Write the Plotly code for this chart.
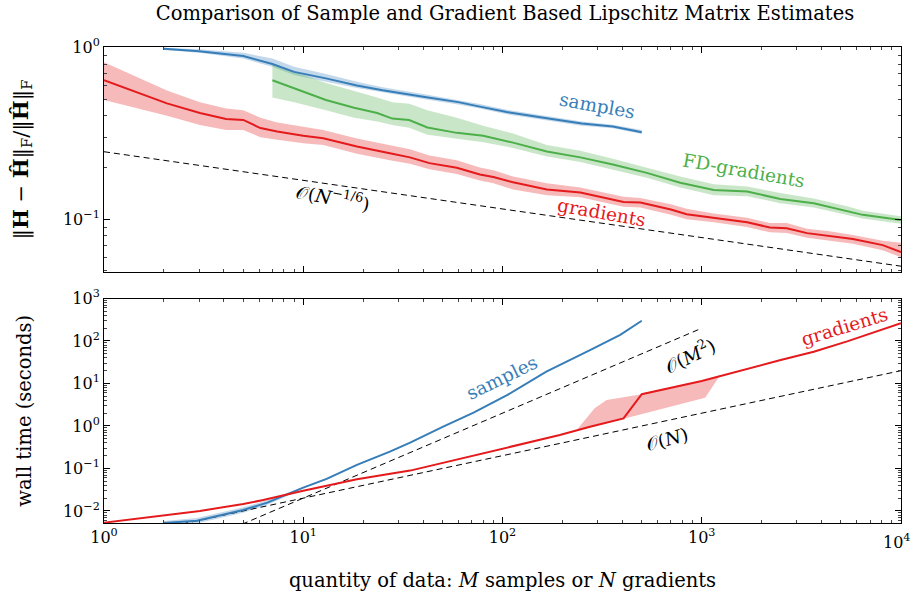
import plotly.graph_objects as go

# ---------------- data: top panel (relative error) ----------------
top_samples_x = [2, 3, 5, 7, 9, 13, 18.6, 25, 40, 60, 77, 105, 167, 250, 358, 500]
top_samples_y = [0.98, 0.95, 0.89, 0.80, 0.72, 0.66, 0.60, 0.563, 0.516, 0.48, 0.452, 0.42, 0.387, 0.36, 0.346, 0.321]
top_samples_hi = [0.995, 0.975, 0.93, 0.86, 0.77, 0.70, 0.63, 0.585, 0.535, 0.495, 0.468, 0.433, 0.398, 0.37, 0.355, 0.33]
top_samples_lo = [0.965, 0.93, 0.86, 0.77, 0.69, 0.63, 0.58, 0.545, 0.50, 0.465, 0.44, 0.408, 0.377, 0.35, 0.338, 0.313]

top_fd_x = [7, 9, 13, 18, 23.5, 28, 34, 42, 59, 80, 113, 167, 246, 358, 530, 780, 1150, 1690, 2480, 3650, 5370, 6430, 10000]
top_fd_y = [0.644, 0.58, 0.494, 0.445, 0.415, 0.385, 0.378, 0.342, 0.318, 0.306, 0.279, 0.248, 0.229, 0.208, 0.186, 0.163, 0.148, 0.145, 0.131, 0.124, 0.112, 0.106, 0.099]
top_fd_hi = [0.81, 0.72, 0.62, 0.56, 0.51, 0.48, 0.47, 0.43, 0.39, 0.35, 0.315, 0.27, 0.25, 0.225, 0.20, 0.177, 0.16, 0.155, 0.142, 0.132, 0.119, 0.112, 0.104]
top_fd_lo = [0.51, 0.48, 0.43, 0.39, 0.37, 0.353, 0.34, 0.31, 0.295, 0.28, 0.26, 0.232, 0.215, 0.194, 0.174, 0.153, 0.138, 0.136, 0.124, 0.117, 0.106, 0.101, 0.094]

top_grad_x = [1, 2.07, 3.03, 4.1, 5, 6.1, 7.4, 10, 12.6, 18.6, 27.2, 34.3, 43, 59, 77, 90, 113, 167, 246, 405, 492, 700, 840, 1150, 1690, 2200, 2670, 3380, 4380, 5740, 8100, 10000]
top_grad_y = [0.644, 0.472, 0.415, 0.383, 0.378, 0.339, 0.324, 0.306, 0.296, 0.265, 0.242, 0.229, 0.212, 0.199, 0.182, 0.176, 0.164, 0.149, 0.143, 0.126, 0.125, 0.114, 0.107, 0.102, 0.096, 0.0895, 0.0887, 0.083, 0.080, 0.0767, 0.0707, 0.0645]
top_grad_hi = [0.82, 0.56, 0.48, 0.44, 0.43, 0.39, 0.365, 0.345, 0.33, 0.295, 0.27, 0.255, 0.235, 0.22, 0.20, 0.193, 0.177, 0.162, 0.153, 0.135, 0.133, 0.122, 0.115, 0.108, 0.102, 0.095, 0.095, 0.088, 0.085, 0.081, 0.075, 0.073]
top_grad_lo = [0.494, 0.40, 0.353, 0.33, 0.33, 0.30, 0.29, 0.277, 0.27, 0.24, 0.22, 0.21, 0.195, 0.183, 0.168, 0.162, 0.149, 0.138, 0.134, 0.118, 0.117, 0.106, 0.10, 0.096, 0.09, 0.084, 0.083, 0.078, 0.075, 0.072, 0.066, 0.060]

top_ref_x = [1, 10000]
top_ref_y = [0.247, 0.0533]   # O(N^-1/6)

# ---------------- data: bottom panel (wall time) ----------------
bot_samples_x = [2, 2.93, 3.95, 5, 6.6, 8.6, 10, 13.1, 18.6, 27.2, 34.4, 50.4, 71.6, 106, 166, 275, 390, 500]
bot_samples_y = [0.0052, 0.0059, 0.0081, 0.0105, 0.0157, 0.026, 0.0355, 0.0566, 0.121, 0.248, 0.404, 0.963, 2.06, 5.37, 19, 61, 139, 300]
bot_samples_hi = [0.0058, 0.0068, 0.0094, 0.0122, 0.0178, 0.028, 0.037, 0.059, 0.125, 0.255, 0.415, 0.98, 2.1, 5.45, 19.3, 62, 141, 304]
bot_samples_lo = [0.0046, 0.0051, 0.0070, 0.0091, 0.0139, 0.024, 0.034, 0.054, 0.117, 0.241, 0.393, 0.945, 2.02, 5.29, 18.7, 60, 137, 296]

bot_grad_x = [1, 3.03, 5, 6.3, 10, 18.6, 34.4, 63, 109, 194, 275, 405, 500, 1000, 2490, 3650, 5370, 10000]
bot_grad_y = [0.0053, 0.010, 0.0146, 0.018, 0.030, 0.056, 0.089, 0.174, 0.326, 0.61, 0.96, 1.51, 5.6, 11.5, 35.6, 56, 98, 262]
bot_band_x = [237, 290, 333, 405, 500, 1040, 1240]
bot_band_hi = [0.83, 2.6, 4.1, 4.8, 5.6, 12.0, 15.8]
bot_band_lo = [0.83, 0.98, 1.2, 1.47, 1.9, 4.6, 15.8]

ref_m2_x = [1, 1000]
ref_m2_y = [0.0002, 200]     # O(M^2)
ref_n_x = [1, 10000]
ref_n_y = [0.002, 20]        # O(N)

x_tickvals = [1, 10, 100, 1000, 10000]
x_ticktext = ["10<sup>0</sup>", "10<sup>1</sup>", "10<sup>2</sup>", "10<sup>3</sup>", ""]
x_last_label = "10<sup>4</sup>"   # drawn nudged left so it fits inside the figure
top_tickvals = [0.1, 1]
top_ticktext = ["10<sup>−1</sup>", "10<sup>0</sup>"]
bot_tickvals = [0.01, 0.1, 1, 10, 100, 1000]
bot_ticktext = ["10<sup>−2</sup>", "10<sup>−1</sup>", "10<sup>0</sup>", "10<sup>1</sup>", "10<sup>2</sup>", "10<sup>3</sup>"]

BLUE = "#377eb8"
GREEN = "#4daf4a"
RED = "#e41a1c"
FONT = "DejaVu Serif"


def rgba(hexc, a):
    h = hexc.lstrip("#")
    return "rgba(%d,%d,%d,%s)" % (int(h[0:2], 16), int(h[2:4], 16), int(h[4:6], 16), a)


def minor_vals(e0, e1):
    return [m * 10.0 ** e for e in range(e0, e1) for m in range(2, 10)]


fig = go.Figure()


def band(x, lo, hi, color, xa, ya):
    fig.add_trace(go.Scatter(
        x=list(x) + list(x)[::-1], y=list(hi) + list(lo)[::-1],
        fill="toself", fillcolor=rgba(color, 0.3), line=dict(width=0),
        mode="lines", hoverinfo="skip", showlegend=False, xaxis=xa, yaxis=ya))


def line(x, y, color, xa, ya, width=2, dash=None):
    fig.add_trace(go.Scatter(
        x=x, y=y, mode="lines", line=dict(color=color, width=width, dash=dash),
        showlegend=False, xaxis=xa, yaxis=ya))


# top panel
band(top_samples_x, top_samples_lo, top_samples_hi, BLUE, "x", "y")
band(top_fd_x, top_fd_lo, top_fd_hi, GREEN, "x", "y")
band(top_grad_x, top_grad_lo, top_grad_hi, RED, "x", "y")
line(top_ref_x, top_ref_y, "black", "x", "y", width=1, dash="6px,4px")
line(top_samples_x, top_samples_y, BLUE, "x", "y")
line(top_fd_x, top_fd_y, GREEN, "x", "y")
line(top_grad_x, top_grad_y, RED, "x", "y")

# bottom panel
band(bot_samples_x, bot_samples_lo, bot_samples_hi, BLUE, "x2", "y2")
band(bot_band_x, bot_band_lo, bot_band_hi, RED, "x2", "y2")
line(ref_m2_x, ref_m2_y, "black", "x2", "y2", width=1, dash="6px,4px")
line(ref_n_x, ref_n_y, "black", "x2", "y2", width=1, dash="6px,4px")
line(bot_samples_x, bot_samples_y, BLUE, "x2", "y2")
line(bot_grad_x, bot_grad_y, RED, "x2", "y2")

TICKFONT = dict(family=FONT, size=16, color="black")


def axis(minor_list, **kw):
    d = dict(
        type="log", showgrid=False, zeroline=False, showline=True, linecolor="black",
        linewidth=1, mirror="allticks", ticks="inside", ticklen=6, tickcolor="black",
        tickfont=TICKFONT, ticklabeloverflow="allow", automargin=False,
        minor=dict(ticks="inside", ticklen=3, tickcolor="#444", showgrid=False,
                   tickmode="array", tickvals=minor_list),
    )
    d.update(kw)
    return d


fig.update_layout(
    width=913, height=592,
    margin=dict(l=104, r=12, t=47, b=69, autoexpand=False),
    paper_bgcolor="white", plot_bgcolor="white",
    font=dict(family=FONT, size=18, color="black"),
    title=dict(text="Comparison of Sample and Gradient Based Lipschitz Matrix Estimates",
               x=505 / 913, xanchor="center", y=1 - 13 / 592, yanchor="middle", yref="container",
               font=dict(family=FONT, size=19.5, color="black"), automargin=False),
    xaxis=axis(minor_vals(0, 4), domain=[0, 1], range=[0, 4.0002], anchor="y",
               tickvals=x_tickvals, ticktext=x_ticktext, showticklabels=False),
    yaxis=axis(minor_vals(-2, 0), domain=[0.527, 1], range=[-1.308, 0.002], anchor="x",
               tickvals=top_tickvals, ticktext=top_ticktext,
               title=dict(text="‖<b>H</b> − <b>Ĥ</b>‖<sub>F</sub>/‖<b>Ĥ</b>‖<sub>F</sub>",
                          font=dict(family=FONT, size=21), standoff=28)),
    xaxis2=axis(minor_vals(0, 4), domain=[0, 1], range=[0, 4.0002], anchor="y2",
                tickvals=x_tickvals, ticktext=x_ticktext,
                title=dict(text="quantity of data: <i>M</i> samples or <i>N</i> gradients",
                           font=dict(family=FONT, size=19.5), standoff=27)),
    yaxis2=axis(minor_vals(-3, 3), domain=[0, 0.4716], range=[-2.284, 3.0], anchor="x2",
                tickvals=bot_tickvals, ticktext=bot_ticktext,
                title=dict(text="wall time (seconds)", font=dict(family=FONT, size=19.5), standoff=26)),
)

# last x tick label, kept inside the figure like the reference
fig.add_annotation(text=x_last_label, x=4, y=0, xref="x2", yref="y2 domain",
                   xanchor="right", yanchor="top", xshift=11, yshift=-6, showarrow=False,
                   font=TICKFONT)


def label(text, lx, ly, color, angle, xa, ya, size=18.5):
    fig.add_annotation(text=text, x=lx, y=ly, xref=xa, yref=ya, showarrow=False,
                       textangle=angle, font=dict(family=FONT, size=size, color=color),
                       xanchor="center", yanchor="middle")


label("samples", 2.474, -0.338, BLUE, 10, "x", "y")
label("FD-gradients", 3.212, -0.716, GREEN, 10, "x", "y")
label("gradients", 2.499, -0.959, RED, 10, "x", "y")
label("𝒪(<i>N</i><sup>−1/6</sup>)", 1.149, -0.873, "black", 10, "x", "y")

label("samples", 2.0, 1.13, BLUE, -26, "x2", "y2")
label("gradients", 3.719, 2.33, RED, -17, "x2", "y2")
label("𝒪(<i>M</i><sup>2</sup>)", 2.941, 1.67, "black", -26, "x2", "y2")
label("𝒪(<i>N</i>)", 2.826, -0.33, "black", -15, "x2", "y2")

fig.write_html("out.html", config={"displayModeBar": False},
               post_script="document.body.style.margin='0px';document.body.style.overflow='hidden';")
